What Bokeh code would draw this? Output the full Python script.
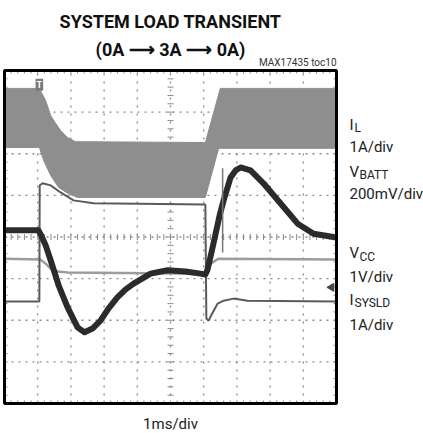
import numpy as np
from bokeh.plotting import figure
from bokeh.models import Label
from bokeh.embed import file_html
from bokeh.resources import INLINE

# ---- data: time in ms (1 ms/div), vertical position in screen divisions (0..8) ----
# I_L ripple envelope (top and bottom edges of the shaded band)
il_top_t = [0.00, 1.05, 1.24, 1.39, 1.54, 1.69, 1.90, 2.14, 6.05, 6.50, 10.00]
il_top   = [7.57, 7.57, 7.28, 6.92, 6.73, 6.56, 6.39, 6.29, 6.27, 7.57, 7.57]
il_bot_t = [0.00, 1.05, 1.18, 1.39, 1.63, 1.90, 2.20, 6.05, 6.45, 10.00]
il_bot   = [6.15, 6.15, 5.84, 5.48, 5.19, 5.05, 4.95, 4.95, 6.13, 6.13]

# V_BATT
vbatt_t = [0.00, 1.02, 1.08, 1.24, 1.39, 1.63, 1.90, 2.20, 2.41, 2.65, 2.89, 3.13,
           3.40, 3.65, 3.89, 4.40, 4.91, 5.45, 5.90, 6.05, 6.11, 6.24, 6.36, 6.48,
           6.60, 6.81, 6.96, 7.11, 7.41, 7.80, 8.31, 8.83, 9.31, 10.00]
vbatt   = [4.16, 4.16, 4.08, 3.80, 3.44, 2.84, 2.31, 1.83, 1.71, 1.80, 1.99, 2.28,
           2.55, 2.74, 2.88, 3.12, 3.20, 3.17, 3.12, 3.10, 3.20, 3.65, 4.08, 4.52,
           4.88, 5.43, 5.60, 5.67, 5.60, 5.29, 4.81, 4.32, 4.08, 3.99]

# V_CC
vcc_t = [0.00, 1.08, 1.24, 1.39, 1.60, 1.90, 6.05, 6.21, 6.45, 10.00]
vcc   = [3.48, 3.46, 3.36, 3.24, 3.17, 3.15, 3.12, 3.36, 3.48, 3.46]

# I_SYSLD
isys_t = [0.00, 1.05, 1.06, 1.15, 1.39, 1.69, 2.08, 2.68, 6.05, 6.08, 6.15, 6.24,
          6.42, 6.60, 6.90, 7.32, 10.00]
isys   = [2.45, 2.45, 5.24, 5.29, 5.24, 5.07, 4.88, 4.81, 4.78, 2.04, 1.99, 2.14,
          2.40, 2.47, 2.52, 2.47, 2.45]

# thin spike line
spike_t = [6.57, 6.57]
spike   = [3.63, 5.65]

# markers: trigger position and channel reference arrow
trig_t, trig_v = 1.05, 7.66
gnd_t, gnd_v = 9.85, 2.79

# scope screen: 10 horizontal x 8 vertical divisions
N_HDIV, N_VDIV = 10, 8
x_div = list(range(1, N_HDIV))
y_div = list(range(1, N_VDIV))
x_minor = [round(0.2 * k, 1) for k in range(1, 5 * N_HDIV)]
y_minor = [round(0.2 * k, 1) for k in range(1, 5 * N_VDIV)]

# ---- canvas mapping (pixel layout of the page) ----
W, H = 423, 433
X0, PX_PER_DIV_X = 4, 33.2      # left edge of the screen, px per ms
Y0, PX_PER_DIV_Y = 403, 41.625  # bottom edge of the screen, px per div
TEXT_SHIFT = 6                  # baseline correction for text placement


def tx(px):
    return (px - X0) / PX_PER_DIV_X


def vy(py):
    return (Y0 - py) / PX_PER_DIV_Y


p = figure(width=W, height=H, x_range=(tx(0), tx(W)), y_range=(vy(H), vy(0)),
           output_backend="svg", toolbar_location=None,
           x_axis_type=None, y_axis_type=None,
           min_border=0, min_border_left=0, min_border_right=0,
           min_border_top=0, min_border_bottom=0,
           background_fill_color="white", border_fill_color="white",
           styles={"position": "absolute", "left": "0px", "top": "0px"})
p.outline_line_color = None
p.grid.visible = False

GRAT = "#8a8a8a"
# graticule (dotted division lines)
p.segment(x0=x_div, y0=[0] * len(x_div), x1=x_div, y1=[N_VDIV] * len(x_div),
          line_color=GRAT, line_width=1.3, line_dash="2 6")
p.segment(x0=[0] * len(y_div), y0=y_div, x1=[N_HDIV] * len(y_div), y1=y_div,
          line_color=GRAT, line_width=1.3, line_dash="2 5")

# tick marks on the centre cross and along the edges
dx = 3 / PX_PER_DIV_X
dy = 3 / PX_PER_DIV_Y
cx, cy = N_HDIV / 2, N_VDIV / 2
p.segment(x0=x_minor, y0=[cy - dy] * len(x_minor), x1=x_minor, y1=[cy + dy] * len(x_minor),
          line_color=GRAT, line_width=1)
p.segment(x0=[cx - dx] * len(y_minor), y0=y_minor, x1=[cx + dx] * len(y_minor), y1=y_minor,
          line_color=GRAT, line_width=1)
p.segment(x0=x_minor, y0=[0] * len(x_minor), x1=x_minor, y1=[dy] * len(x_minor),
          line_color=GRAT, line_width=1)
p.segment(x0=x_minor, y0=[N_VDIV] * len(x_minor), x1=x_minor, y1=[N_VDIV - dy] * len(x_minor),
          line_color=GRAT, line_width=1)
p.segment(x0=[0] * len(y_minor), y0=y_minor, x1=[dx] * len(y_minor), y1=y_minor,
          line_color=GRAT, line_width=1)
p.segment(x0=[N_HDIV] * len(y_minor), y0=y_minor, x1=[N_HDIV - dx] * len(y_minor), y1=y_minor,
          line_color=GRAT, line_width=1)

# traces
p.patch(il_top_t + il_bot_t[::-1], il_top + il_bot[::-1],
        fill_color="#8e8e8e", line_color="#8e8e8e", line_width=1)
p.line(vcc_t, vcc, line_color="#9c9c9c", line_width=2.5)
p.line(isys_t, isys, line_color="#5a5a5a", line_width=2)
p.line(vbatt_t, vbatt, line_color="#2b2b2b", line_width=6, line_join="round")
p.line(spike_t, spike, line_color="#777777", line_width=1.5)
p.scatter([gnd_t], [gnd_v], marker="triangle", size=8, angle=np.pi / 2,
          fill_color="#444444", line_color="#444444")

# screen border
p.quad(left=[0], right=[N_HDIV], bottom=[0], top=[N_VDIV],
       fill_color=None, line_color="black", line_width=3)

p.add_layout(Label(x=trig_t, y=trig_v, text="T", text_font="Roboto", text_font_style="bold",
                   text_font_size="9px", text_color="white", text_align="center",
                   text_baseline="middle", background_fill_color="#7a7a7a",
                   padding=1))


def txt(px, py, s, size, bold=False, align="left", color="#222222", font="Roboto"):
    p.add_layout(Label(x=tx(px), y=vy(py - TEXT_SHIFT), text=s, text_font=font,
                       text_font_style="bold" if bold else "normal",
                       text_font_size=f"{size}px", text_align=align,
                       text_baseline="alphabetic", text_color=color))


# titles
txt(170, 27, "SYSTEM LOAD TRANSIENT", 18, bold=True, align="center", color="#111111")
txt(170, 55, "(0A ⟶ 3A ⟶ 0A)", 18, bold=True, align="center", color="#111111")
txt(336, 68, "MAX17435 toc10", 10, align="right", color="#333333")

# channel labels
txt(349, 130, "I", 15)
txt(354, 133, "L", 12)
txt(349, 152, "1A/div", 15)
txt(349, 177, "V", 15)
txt(359, 180, "BATT", 12)
txt(349, 199, "200mV/div", 15)
txt(349, 258, "V", 15)
txt(359, 262, "CC", 12)
txt(349, 282, "1V/div", 15)
txt(349, 305, "I", 15)
txt(354, 308, "SYSLD", 12)
txt(349, 330, "1A/div", 15)

txt(170, 429, "1ms/div", 15, align="center")

open("out.html", "w").write(file_html(p, INLINE))
